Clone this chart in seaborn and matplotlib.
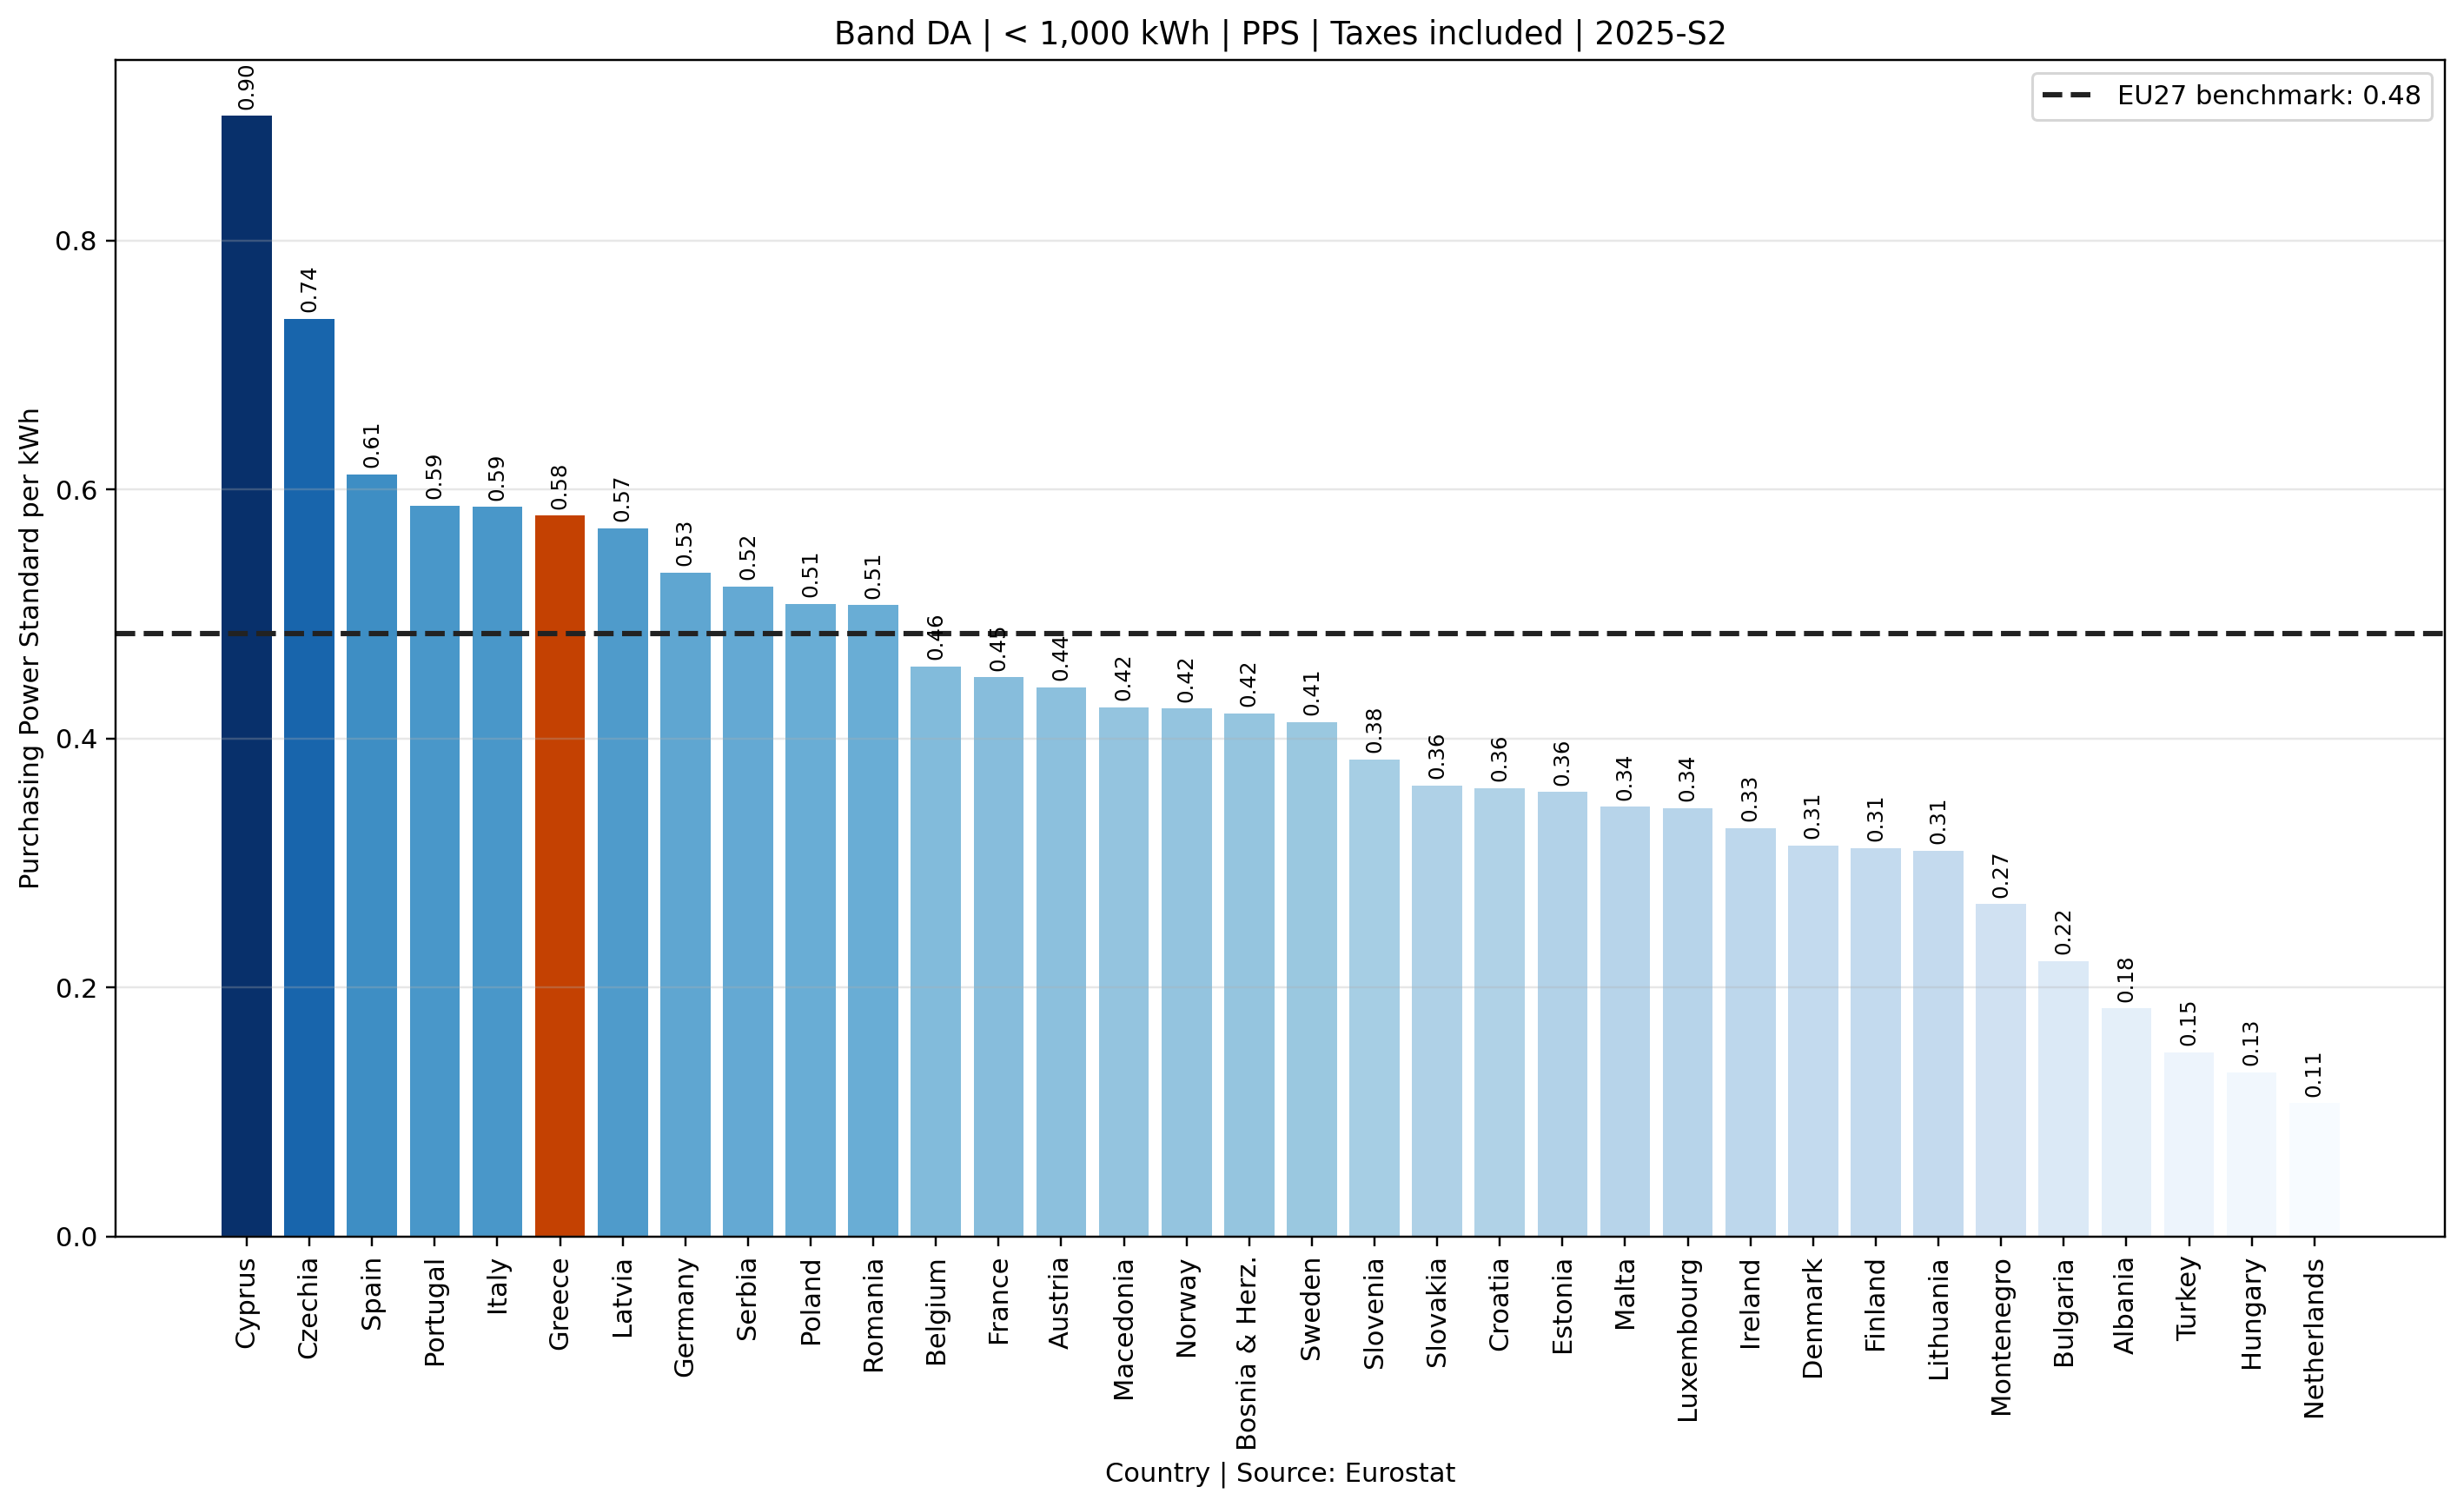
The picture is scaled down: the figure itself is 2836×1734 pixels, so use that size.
import matplotlib
matplotlib.use("Agg")
from matplotlib import pyplot as plt
from matplotlib import colors as mcolors
import seaborn as sns

# values (PPS per kWh, sorted high -> low)
countries = ["Cyprus", "Czechia", "Spain", "Portugal", "Italy", "Greece", "Latvia",
             "Germany", "Serbia", "Poland", "Romania", "Belgium", "France", "Austria",
             "Macedonia", "Norway", "Bosnia & Herz.", "Sweden", "Slovenia", "Slovakia",
             "Croatia", "Estonia", "Malta", "Luxembourg", "Ireland", "Denmark", "Finland",
             "Lithuania", "Montenegro", "Bulgaria", "Albania", "Turkey", "Hungary",
             "Netherlands"]
values = [0.900, 0.737, 0.612, 0.587, 0.586, 0.579, 0.569,
          0.533, 0.522, 0.508, 0.507, 0.458, 0.449, 0.441,
          0.425, 0.424, 0.420, 0.413, 0.383, 0.362,
          0.360, 0.357, 0.345, 0.344, 0.328, 0.314, 0.312,
          0.310, 0.267, 0.221, 0.183, 0.148, 0.132,
          0.107]
benchmark = 0.484
highlight = "Greece"

# colour bars by value on Blues, highlight country in orange
norm = mcolors.Normalize(vmin=min(values), vmax=max(values))
cmap = plt.cm.Blues
palette = []
for c, v in zip(countries, values):
    if c == highlight:
        palette.append("#c44102")
    else:
        palette.append(cmap(norm(v)))

DPI = 220
fig, ax = plt.subplots(figsize=(2836 / DPI, 1734 / DPI), dpi=DPI)
sns.barplot(x=countries, y=values, hue=countries, palette=palette,
            saturation=1, width=0.8, legend=False, ax=ax)

# value labels on top of each bar
for i, v in enumerate(values):
    ax.annotate(f"{v:.2f}", (i, v), xytext=(0, 2.5), textcoords="offset points",
                ha="center", va="bottom", rotation=90, fontsize=8)

ax.axhline(benchmark, color="#222222", linestyle="--", linewidth=2,
           label=f"EU27 benchmark: {benchmark:.2f}")

# same limits matplotlib's default margins would give
n = len(countries)
span = (n - 1) + 0.8
ax.set_xlim(-0.4 - 0.05 * span, n - 1 + 0.4 + 0.05 * span)
ax.set_ylim(0, max(values) * 1.05)

ax.grid(axis="y", alpha=0.3)
ax.tick_params(axis="x", rotation=90)
ax.set_title("Band DA | < 1,000 kWh | PPS | Taxes included | 2025-S2", fontsize=12)
ax.set_xlabel("Country | Source: Eurostat")
ax.set_ylabel("Purchasing Power Standard per kWh")
ax.legend(loc="upper right")

plt.subplots_adjust(left=0.047, right=0.9924, top=0.9602, bottom=0.1796)
plt.savefig("out.png", dpi=DPI)
plt.close()
